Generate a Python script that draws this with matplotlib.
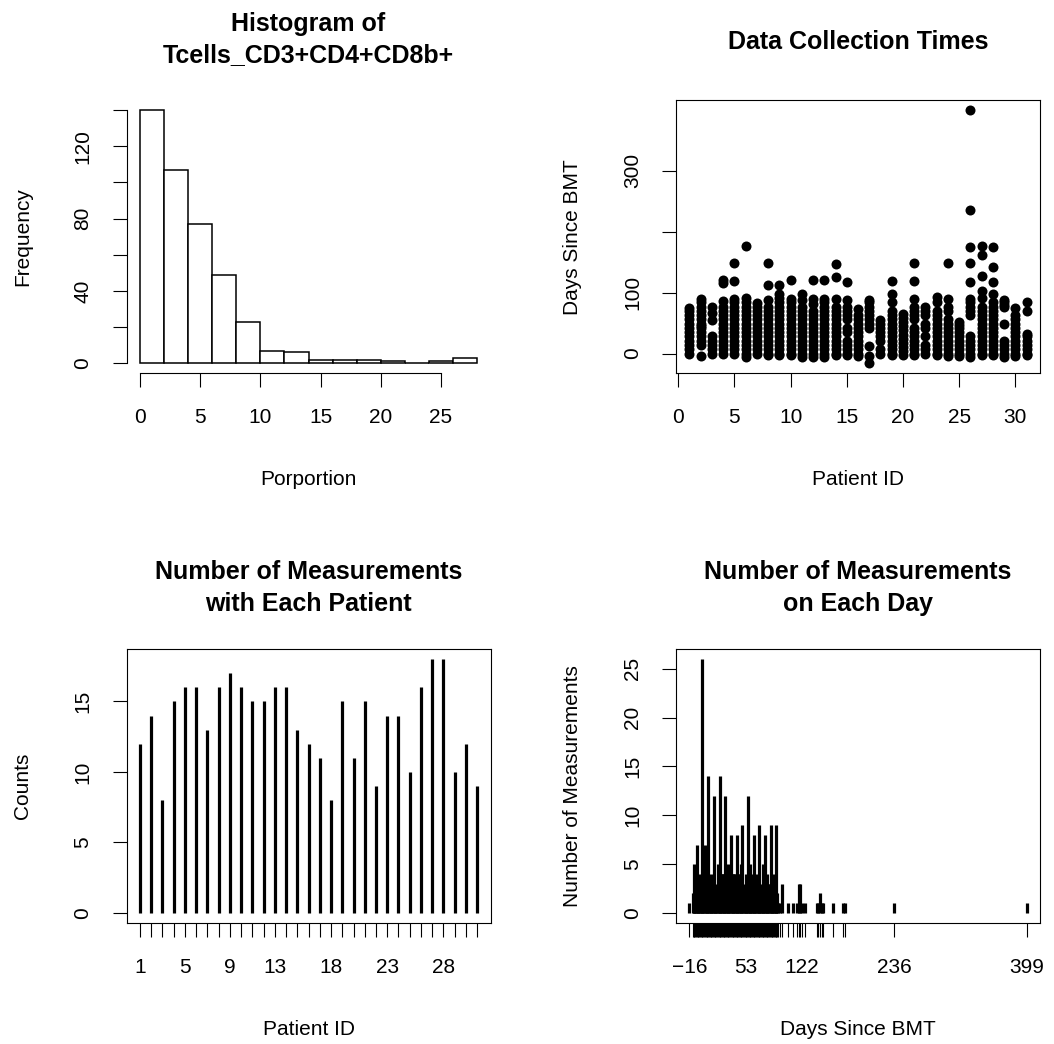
import matplotlib
matplotlib.use("Agg")
import matplotlib.pyplot as plt
import numpy as np

plt.rcParams['font.family'] = ['Liberation Sans', 'DejaVu Sans']

# histogram of Tcells_CD3+CD4+CD8b+ proportions, bins of width 2
hist_edges = [0, 2, 4, 6, 8, 10, 12, 14, 16, 18, 20, 22, 24, 26, 28]
hist_counts = [140, 107, 77, 49, 23, 7, 6, 2, 2, 2, 1, 0, 1, 3]

# days since BMT of every measurement, one list per patient (ID 1..31)
patient_days = [
    [0, 7, 14, 21, 28, 35, 42, 49, 56, 63, 70, 74],
    [-4, 14, 21, 28, 35, 42, 45, 49, 56, 63, 70, 77, 84, 89],
    [0, 7, 14, 21, 28, 55, 66, 77],
    [0, 7, 14, 21, 28, 35, 42, 49, 56, 63, 70, 77, 86, 115, 120],
    [0, 7, 14, 21, 28, 35, 42, 49, 56, 63, 70, 77, 84, 89, 119, 148],
    [-5, 0, 7, 14, 21, 28, 35, 42, 49, 56, 63, 70, 77, 84, 91, 176],
    [0, 7, 14, 21, 28, 35, 42, 49, 56, 63, 70, 77, 82],
    [-3, 0, 7, 14, 21, 28, 35, 42, 49, 56, 63, 70, 77, 88, 112, 148],
    [-3, 0, 7, 14, 21, 28, 35, 42, 49, 56, 63, 70, 77, 84, 91, 97, 112],
    [-2, 0, 7, 14, 21, 28, 35, 42, 49, 56, 63, 70, 77, 84, 89, 120],
    [-6, 0, 7, 14, 21, 28, 35, 42, 49, 56, 63, 70, 77, 88, 97],
    [-5, 0, 7, 14, 21, 28, 35, 42, 49, 56, 63, 70, 81, 89, 120],
    [-6, 0, 7, 14, 21, 28, 35, 42, 49, 56, 63, 70, 77, 84, 90, 120],
    [-3, 0, 7, 14, 21, 28, 35, 42, 49, 56, 63, 70, 77, 89, 125, 146],
    [-3, 0, 7, 14, 21, 35, 42, 56, 63, 70, 77, 88, 118],
    [-4, 0, 7, 14, 21, 28, 35, 42, 49, 56, 63, 73],
    [-16, -4, 12, 42, 49, 56, 63, 70, 77, 84, 88],
    [0, 7, 21, 28, 35, 42, 49, 55],
    [-3, 0, 7, 14, 21, 28, 35, 42, 49, 56, 63, 70, 84, 97, 119],
    [-2, 4, 10, 17, 24, 31, 38, 45, 52, 59, 65],
    [-3, 0, 7, 14, 21, 28, 35, 42, 56, 63, 70, 77, 89, 119, 148],
    [0, 7, 14, 28, 42, 49, 63, 70, 77],
    [-2, 0, 7, 14, 21, 28, 35, 42, 49, 56, 63, 70, 84, 92],
    [-4, 0, 7, 14, 21, 28, 35, 42, 49, 56, 70, 77, 89, 149],
    [-4, 0, 7, 14, 21, 28, 35, 42, 46, 51],
    [-5, 0, 7, 14, 21, 28, 63, 70, 77, 84, 89, 118, 148, 175, 236, 399],
    [-3, 0, 7, 14, 21, 28, 35, 42, 49, 56, 63, 70, 77, 91, 103, 127, 161, 176],
    [-3, 0, 7, 14, 21, 28, 35, 42, 49, 56, 63, 70, 77, 84, 97, 118, 142, 175],
    [-6, 0, 7, 14, 21, 49, 77, 80, 84, 87],
    [-4, 0, 7, 14, 21, 28, 35, 42, 49, 56, 63, 75],
    [-3, 0, 7, 14, 21, 28, 32, 70, 85],
]
patient_ids = list(range(1, 32))
patient_labels = [1, 5, 9, 13, 18, 23, 28]

# number of measurements on each distinct day since BMT
table_days = [-16, -12, -11, -10, -9, -8, -7, -6, -5, -4, -3, -2, -1,
              0, 1, 2, 3, 4, 5, 6, 7, 8, 9, 10, 11, 12, 13,
              14, 15, 16, 17, 18, 19, 20, 21, 22, 23, 24, 25, 26, 27,
              28, 29, 30, 31, 32, 33, 34, 35, 36, 37, 38, 39, 40, 41,
              42, 43, 44, 45, 46, 47, 48, 49, 50, 51, 52, 53, 54, 55,
              56, 57, 58, 59, 60, 61, 62, 63, 64, 65, 66, 67, 68, 69,
              70, 71, 72, 73, 74, 75, 76, 77, 78, 79, 80, 81, 82, 83,
              84, 85, 86, 87, 88, 89, 90, 91, 92, 93, 95, 98,
              105, 111, 116, 119, 120, 122, 126, 141, 142, 145, 147, 148,
              161, 173, 176, 236, 399]
table_counts = [1, 2, 5, 2, 1, 3, 7, 2, 3, 4, 2, 3, 2,
                26, 2, 5, 7, 2, 3, 1, 14, 2, 1, 4, 1, 3, 2,
                12, 1, 3, 1, 2, 5, 2, 14, 3, 4, 4, 4, 3, 4,
                12, 4, 4, 3, 5, 4, 4, 8, 4, 3, 4, 4, 4, 3,
                8, 4, 3, 4, 4, 2, 5, 9, 2, 3, 1, 4, 2, 3,
                12, 2, 5, 2, 3, 1, 4, 8, 2, 3, 1, 4, 2, 3,
                9, 1, 3, 2, 5, 2, 3, 8, 2, 4, 1, 3, 2, 3,
                9, 2, 3, 2, 4, 1, 2, 9, 2, 1, 1, 3,
                1, 1, 1, 3, 3, 1, 1, 1, 1, 2, 1, 1,
                1, 1, 1, 1, 1]
day_labels = [-16, 53, 122, 236, 399]

W, H = 1054, 1044


def box(x0, y0, x1, y1):
    return [x0 / W, 1 - y1 / H, (x1 - x0) / W, (y1 - y0) / H]


def style(ax, title, xlabel, ylabel):
    ax.tick_params(direction='out', length=10, width=0.8, labelsize=15)
    ax.tick_params(axis='x', pad=15)
    ax.tick_params(axis='y', pad=14.5)
    for s in ax.spines.values():
        s.set_linewidth(0.8)
    for lab in ax.get_yticklabels():
        lab.set_rotation(90)
        lab.set_va('center')
    # R puts one-line titles a little lower than the centre of two-line ones
    above = 60.5 if "\n" in title else 58
    ax.text(0.5, 1 + above / 273.4, title, transform=ax.transAxes, ha='center',
            va='center', fontsize=18, fontweight='bold', linespacing=1.42)
    ax.set_xlabel(xlabel, fontsize=15)
    ax.xaxis.set_label_coords(0.5, -106 / 273.4)
    ax.xaxis.label.set_va('center')
    ax.set_ylabel(ylabel, fontsize=15)
    ax.yaxis.set_label_coords(-104 / 364, 0.5)
    ax.yaxis.label.set_va('center')


fig = plt.figure(figsize=(10.54, 10.44), dpi=100)

# histogram
ax1 = fig.add_axes(box(126.5, 100, 490.6, 373.4))
ax1.bar(hist_edges[:-1], hist_counts, width=2, align='edge',
        facecolor='white', edgecolor='black', linewidth=1.1)
ax1.set_xlim(-1.12, 29.12)
ax1.set_ylim(-5.6, 145.6)
ax1.set_xticks([0, 5, 10, 15, 20, 25])
ax1.set_yticks([0, 20, 40, 60, 80, 100, 120, 140])
ax1.set_yticklabels(['0', '', '40', '', '80', '', '120', ''])
ax1.spines['top'].set_visible(False)
ax1.spines['right'].set_visible(False)
ax1.spines['left'].set_bounds(0, 140)
ax1.spines['bottom'].set_bounds(0, 25)
style(ax1, "Histogram of\nTcells_CD3+CD4+CD8b+", "Porportion", "Frequency")

# data collection times
ax2 = fig.add_axes(box(676, 100, 1040, 373.4))
xs = [pid for pid, d in zip(patient_ids, patient_days) for _ in d]
ys = [v for d in patient_days for v in d]
ax2.plot(xs, ys, 'o', color='black', markersize=7.2, markeredgewidth=0)
ax2.set_xlim(-0.2, 32.2)
ax2.set_ylim(-32.6, 415.6)
ax2.set_xticks([0, 5, 10, 15, 20, 25, 30])
ax2.set_yticks([0, 100, 200, 300])
ax2.set_yticklabels(['0', '100', '', '300'])
style(ax2, "Data Collection Times", "Patient ID", "Days Since BMT")

# measurements per patient
ax3 = fig.add_axes(box(126.5, 649, 490.6, 923))
n_meas = [len(d) for d in patient_days]
ax3.vlines(patient_ids, 0, n_meas, color='black', linewidth=2.3)
ax3.set_xlim(-0.2, 32.2)
ax3.set_ylim(-0.72, 18.72)
ax3.set_xticks(patient_ids)
ax3.set_xticklabels([str(p) if p in patient_labels else '' for p in patient_ids])
ax3.set_yticks([0, 5, 10, 15])
style(ax3, "Number of Measurements\nwith Each Patient", "Patient ID", "Counts")

# measurements per day
ax4 = fig.add_axes(box(676, 649, 1040, 923))
ax4.vlines(table_days, 0, table_counts, color='black', linewidth=2.3)
ax4.set_xlim(-32.6, 415.6)
ax4.set_ylim(-1.04, 27.04)
ax4.set_xticks(table_days)
ax4.set_xticklabels([str(d).replace('-', '\u2212') if d in day_labels else ''
                     for d in table_days])
ax4.set_yticks([0, 5, 10, 15, 20, 25])
style(ax4, "Number of Measurements\non Each Day", "Days Since BMT",
      "Number of Measurements")

fig.savefig("out.png", dpi=100)
